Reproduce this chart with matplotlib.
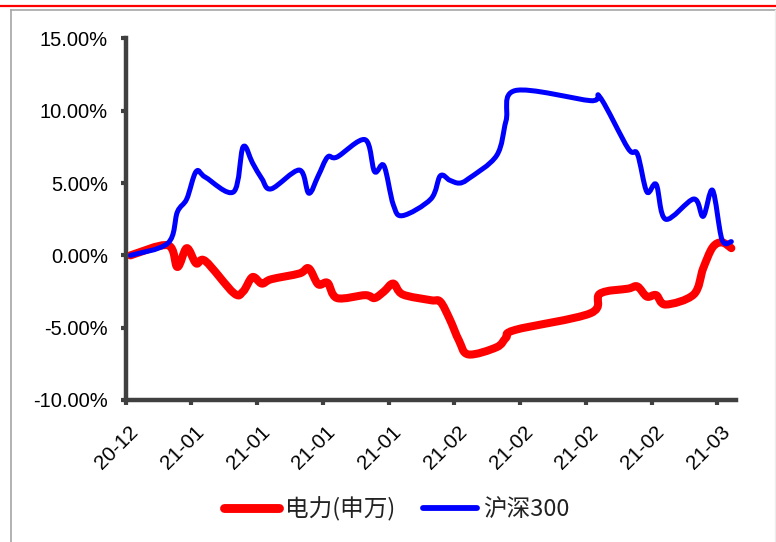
import numpy as np
import pandas as pd
import matplotlib
matplotlib.use("Agg")
import matplotlib.pyplot as plt
import matplotlib.dates as mdates
import matplotlib.transforms as mtransforms
from matplotlib.path import Path
from matplotlib.patches import PathPatch
from matplotlib.lines import Line2D
from matplotlib.ticker import FuncFormatter

# trading days, 2020-12-31 .. 2021-03-05
trade_days = [
    "2020-12-31",
    "2021-01-04", "2021-01-05", "2021-01-06", "2021-01-07", "2021-01-08",
    "2021-01-11", "2021-01-12", "2021-01-13", "2021-01-14", "2021-01-15",
    "2021-01-18", "2021-01-19", "2021-01-20", "2021-01-21", "2021-01-22",
    "2021-01-25", "2021-01-26", "2021-01-27", "2021-01-28", "2021-01-29",
    "2021-02-01", "2021-02-02", "2021-02-03", "2021-02-04", "2021-02-05",
    "2021-02-08", "2021-02-09", "2021-02-10",
    "2021-02-18", "2021-02-19",
    "2021-02-22", "2021-02-23", "2021-02-24", "2021-02-25", "2021-02-26",
    "2021-03-01", "2021-03-02", "2021-03-03", "2021-03-04", "2021-03-05",
]

# cumulative return, %
power_sw = [
    0.0,
    0.7, -0.8, 0.5, -0.55, -0.4,
    -2.6, -2.5, -1.5, -1.95, -1.65,
    -1.25, -0.9, -2.0, -1.9, -2.95,
    -2.75, -2.95, -2.5, -1.95, -2.7,
    -3.1, -3.2, -4.4, -5.9, -6.85,
    -6.35, -5.7, -5.15,
    -4.0, -2.65,
    -2.3, -2.15, -2.85, -2.75, -3.4,
    -2.7, -0.9, 0.55, 0.9, 0.5,
]
hs300 = [
    0.0,
    0.85, 3.0, 3.9, 5.8, 5.4,
    4.4, 7.5, 6.4, 5.3, 4.6,
    5.9, 4.3, 5.5, 6.8, 6.8,
    8.0, 5.8, 6.2, 3.5, 2.75,
    3.9, 5.5, 5.2, 5.0, 5.3,
    6.9, 9.3, 11.4,
    10.7, 10.95,
    7.4, 7.0, 4.4, 4.9, 2.5,
    3.9, 2.7, 4.5, 1.1, 0.95,
]

series_names = ["电力(申万)", "沪深300"]
series_colors = ["#ff0000", "#0000ff"]
series_widths = [5.8, 3.6]

y_ticks = [-10, -5, 0, 5, 10, 15]
x_ticks = pd.date_range("2020-12-31", "2021-03-04", freq="7D")


def smooth_path(x, y):
    """Bezier path through the points (Catmull-Rom style smoothing)."""
    pts = np.column_stack([x, y])
    ext = np.vstack([pts[0], pts, pts[-1]])
    verts = [pts[0]]
    codes = [Path.MOVETO]
    for i in range(len(pts) - 1):
        p0, p1, p2, p3 = ext[i], ext[i + 1], ext[i + 2], ext[i + 3]
        verts += [p1 + (p2 - p0) / 6, p2 - (p3 - p1) / 6, p2]
        codes += [Path.CURVE4] * 3
    return Path(verts, codes)


# each trading day sits in the middle of its date slot
x = mdates.date2num(pd.to_datetime(trade_days)) + 0.5

fig = plt.figure(figsize=(7.76, 5.42), dpi=100)
ax = fig.add_axes([0.162, 0.262, 0.7865, 0.667])

handles = []
for vals, name, color, lw in zip([power_sw, hs300], series_names,
                                 series_colors, series_widths):
    patch = PathPatch(smooth_path(x, vals), fill=False, edgecolor=color,
                      lw=lw, capstyle="round", joinstyle="round",
                      transform=ax.transData)
    ax.add_patch(patch)
    handles.append(Line2D([], [], color=color, lw=lw + 0.6,
                          solid_capstyle="round", label=name))

ax.set_xlim(mdates.date2num(pd.Timestamp("2020-12-31")),
            mdates.date2num(pd.Timestamp("2021-03-06")))
ax.set_ylim(-10, 15)

ax.set_xticks(mdates.date2num(x_ticks))
ax.xaxis.set_major_formatter(mdates.DateFormatter("%y-%m"))
ax.set_yticks(y_ticks)
ax.yaxis.set_major_formatter(FuncFormatter(lambda v, _: f"{v:.2f}%"))

axis_color = "#404040"
for side in ["top", "right"]:
    ax.spines[side].set_visible(False)
for side in ["left", "bottom"]:
    ax.spines[side].set_color(axis_color)
    ax.spines[side].set_linewidth(3.2)
ax.tick_params(axis="both", direction="out", length=3.8, width=3.0,
               color=axis_color, labelcolor="black")
ax.tick_params(axis="y", pad=9, labelsize=14.5)
ax.tick_params(axis="x", pad=12, labelsize=14.8)
for lab in ax.get_yticklabels() + ax.get_xticklabels():
    lab.set_fontfamily("Liberation Sans")
shift = mtransforms.ScaledTranslation(3 / 100, 0, fig.dpi_scale_trans)
for lab in ax.get_xticklabels():
    lab.set_rotation(45)
    lab.set_ha("right")
    lab.set_va("top")
    lab.set_rotation_mode("anchor")
    lab.set_transform(lab.get_transform() + shift)

leg = fig.legend(handles=handles, loc="center", ncol=2,
                 bbox_to_anchor=(397 / 776, 1 - 509 / 542), frameon=False,
                 handlelength=2.3, handletextpad=0.25, columnspacing=1.2,
                 prop={"family": ["Noto Sans CJK SC", "DejaVu Sans"],
                       "size": 17})
for t in leg.get_texts():
    t.set_color("#222222")

# page frame lines
fig.add_artist(Line2D([0, 1], [1 - 6 / 542] * 2, color="#ff0000", lw=1.6,
                      transform=fig.transFigure))
fig.add_artist(Line2D([11 / 776, 1], [1 - 9.5 / 542] * 2, color="#a6a6a6",
                      lw=1.2, transform=fig.transFigure))
fig.add_artist(Line2D([11 / 776] * 2, [0, 1 - 9.5 / 542], color="#a6a6a6",
                      lw=1.2, transform=fig.transFigure))
fig.add_artist(Line2D([774.5 / 776] * 2, [0, 1 - 9.5 / 542], color="#ececec",
                      lw=1.0, transform=fig.transFigure))

fig.savefig("out.png", dpi=100, facecolor="white")
plt.close(fig)
